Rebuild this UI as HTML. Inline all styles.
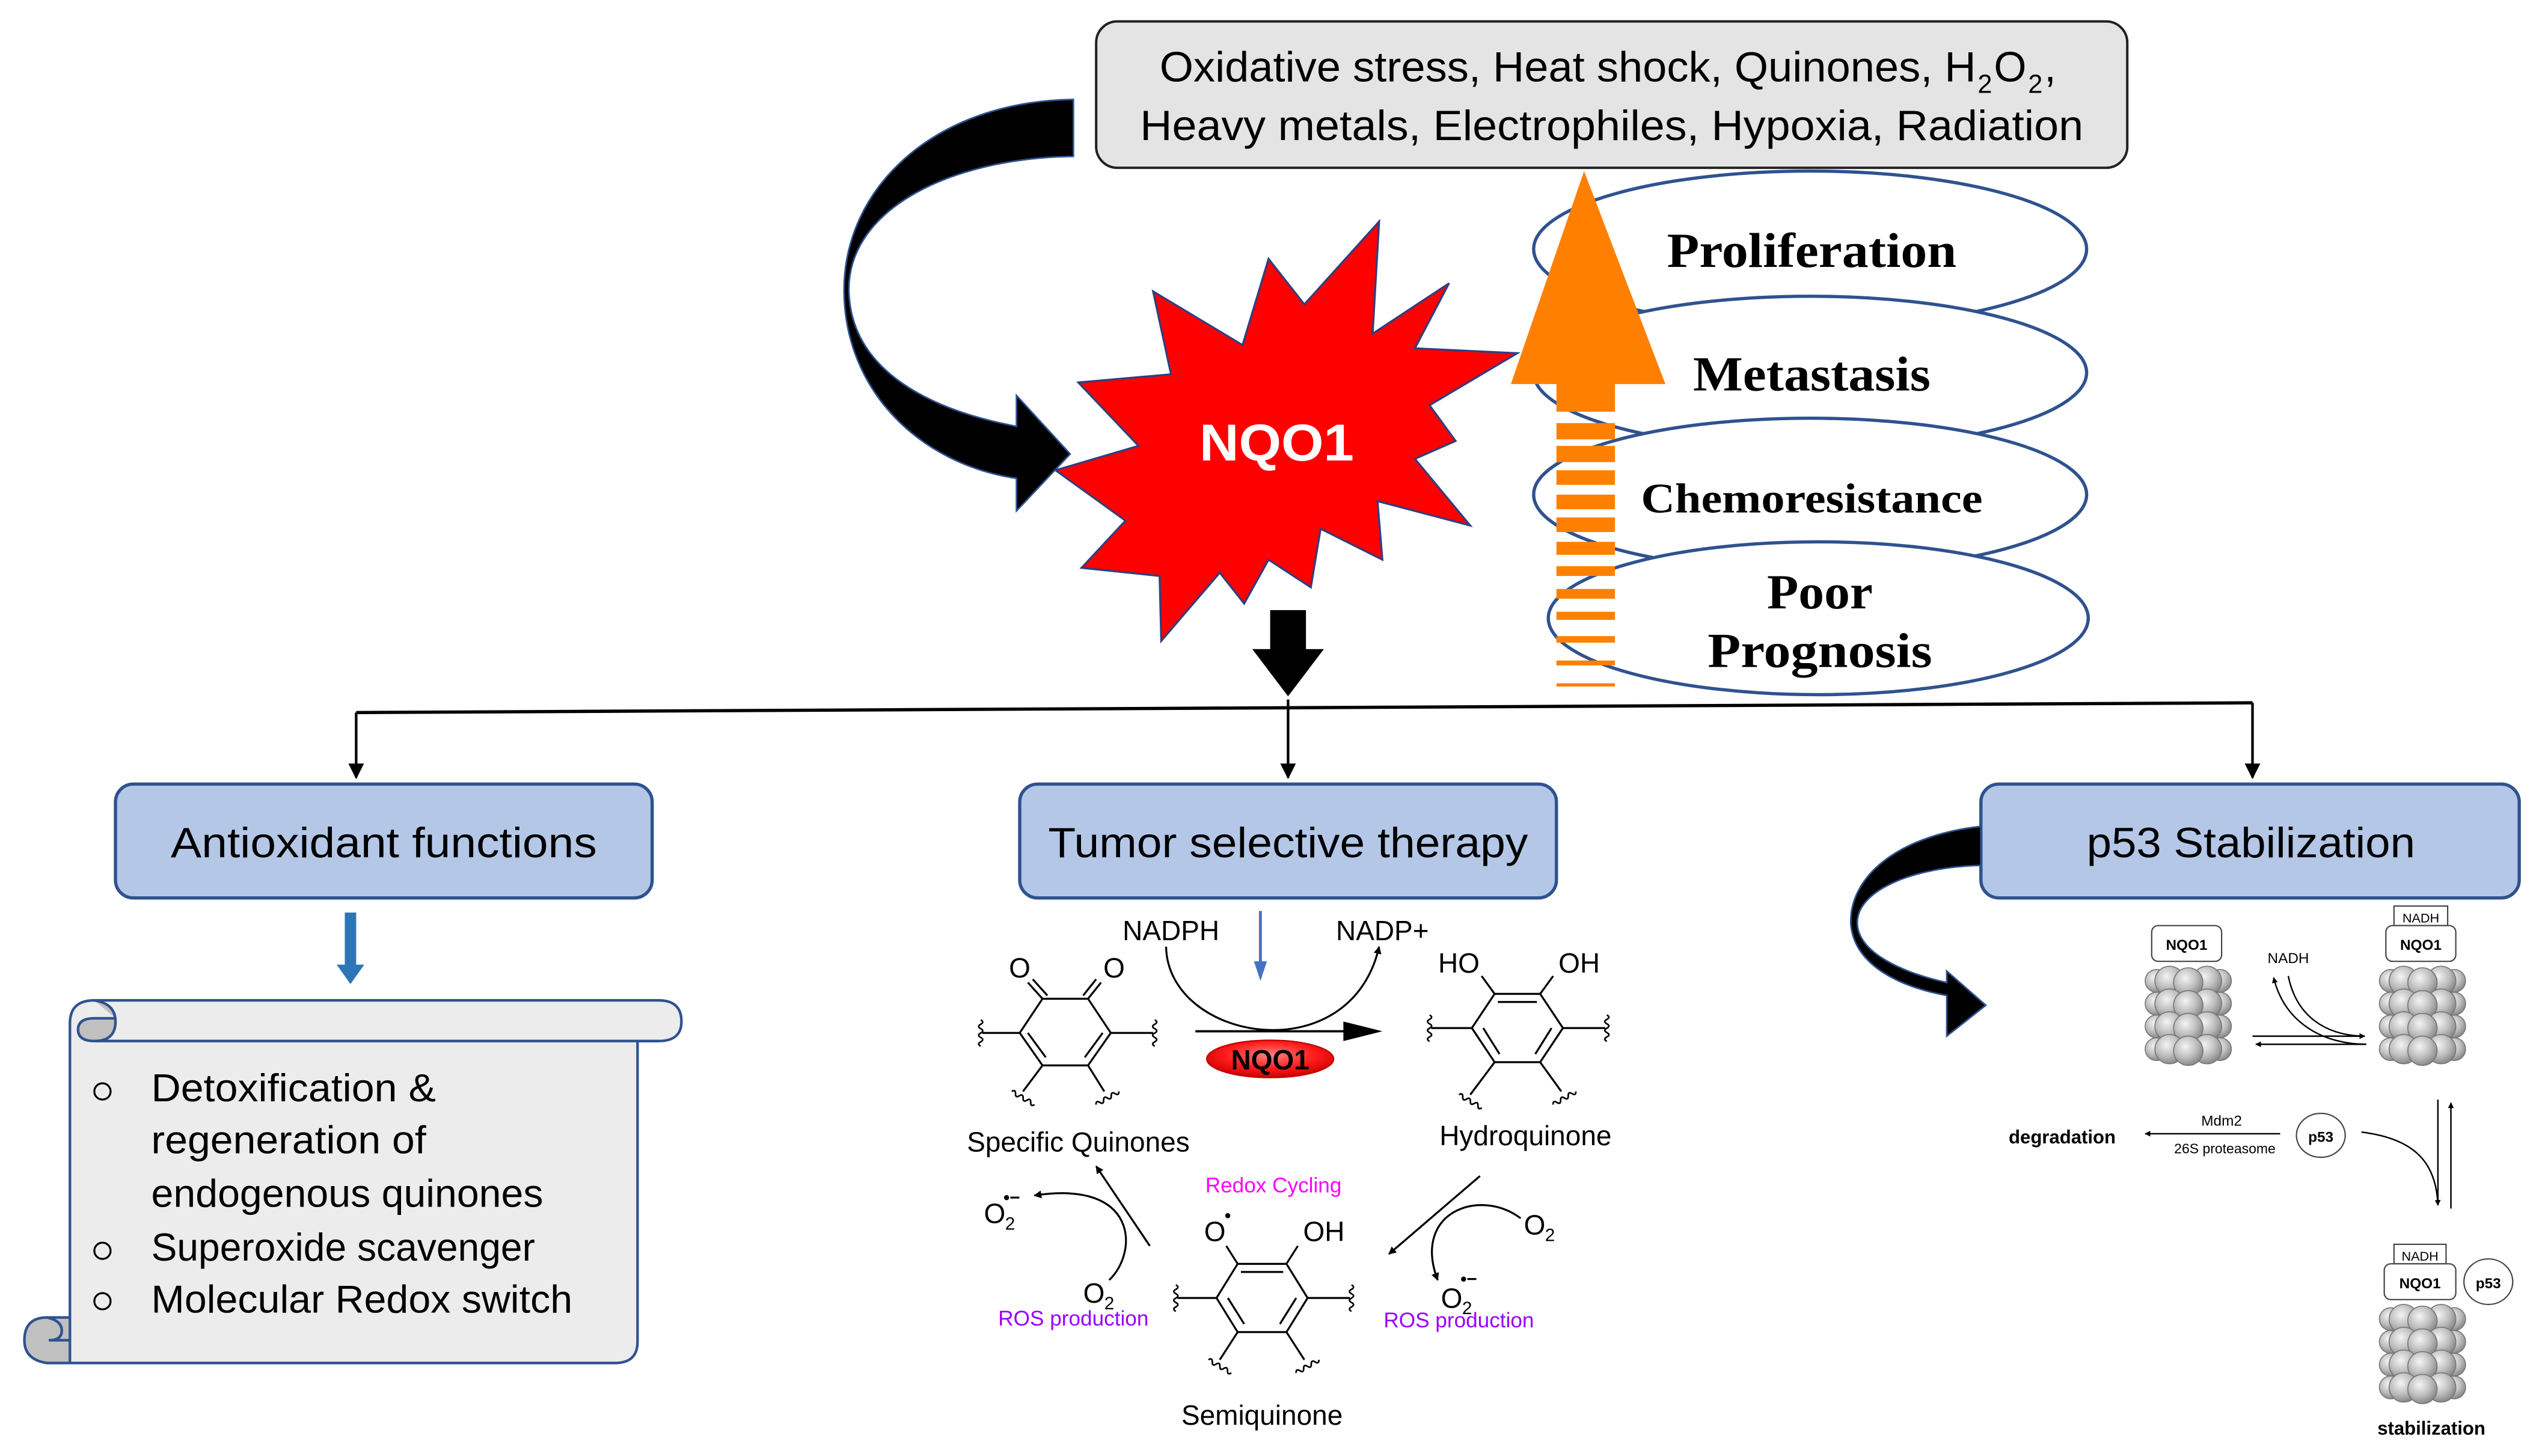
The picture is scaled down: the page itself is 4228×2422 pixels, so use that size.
<!DOCTYPE html>
<html><head><meta charset="utf-8"><style>
html,body{margin:0;padding:0;background:#fff;}
svg{display:block;}
.c{font-family:"Liberation Sans",sans-serif;}
.s{font-family:"Liberation Serif",serif;font-weight:bold;}
</style></head><body>
<svg width="4228" height="2422" viewBox="0 0 1563 895" xmlns="http://www.w3.org/2000/svg">
<defs>
<marker id="ah" viewBox="0 0 10 10" refX="9" refY="5" markerWidth="6" markerHeight="6" orient="auto-start-reverse"><path d="M0,0 L10,5 L0,10 z" fill="#000"/></marker>
<marker id="ahs" viewBox="0 0 10 10" refX="9" refY="5" markerWidth="4" markerHeight="4" orient="auto-start-reverse"><path d="M0,0 L10,5 L0,10 z" fill="#000"/></marker>
<path id="wv" d="M0,-8 q2.5,1.3 0,2.7 q-2.5,1.3 0,2.7 q2.5,1.3 0,2.7 q-2.5,1.3 0,2.7 q2.5,1.3 0,2.7 q-2.5,1.3 0,2.7" fill="none" stroke="#000" stroke-width="1"/>
<radialGradient id="sph" cx="40%" cy="35%" r="65%"><stop offset="0" stop-color="#f4f4f4"/><stop offset="0.6" stop-color="#bdbdbd"/><stop offset="1" stop-color="#8a8a8a"/></radialGradient>
<g id="prot">
 <g stroke="#777" stroke-width="0.6" fill="url(#sph)">
  <circle cx="6" cy="9" r="7"/><circle cx="45" cy="9" r="7"/>
  <circle cx="6" cy="23" r="7"/><circle cx="45" cy="23" r="7"/>
  <circle cx="6" cy="37" r="7"/><circle cx="45" cy="37" r="7"/>
  <circle cx="6" cy="51" r="7"/><circle cx="45" cy="51" r="7"/>
  <circle cx="14" cy="9" r="9"/><circle cx="37" cy="9" r="9"/><circle cx="25.5" cy="10" r="9"/>
  <circle cx="14" cy="23" r="9"/><circle cx="37" cy="23" r="9"/><circle cx="25.5" cy="24" r="9"/>
  <circle cx="14" cy="37" r="9"/><circle cx="37" cy="37" r="9"/><circle cx="25.5" cy="38" r="9"/>
  <circle cx="14" cy="51" r="9"/><circle cx="37" cy="51" r="9"/><circle cx="25.5" cy="52" r="9"/>
 </g>
</g>
</defs>

<rect x="674" y="13" width="634" height="90" rx="13" fill="#e4e4e4" stroke="#222" stroke-width="1.5"/>
<text class="c" x="713" y="50" font-size="26" textLength="502" lengthAdjust="spacingAndGlyphs">Oxidative stress, Heat shock, Quinones, H</text>
<text class="c" x="1216" y="57" font-size="16">2</text>
<text class="c" x="1226" y="50" font-size="26" textLength="20" lengthAdjust="spacingAndGlyphs">O</text>
<text class="c" x="1247" y="57" font-size="16">2</text>
<text class="c" x="1257" y="50" font-size="26">,</text>
<text class="c" x="701" y="86" font-size="26" textLength="580" lengthAdjust="spacingAndGlyphs">Heavy metals, Electrophiles, Hypoxia, Radiation</text>

<path d="M660,61 C575,62 518,115 519,180 C520,240 565,285 625,294 L625,314 L658,279 L625,243 L625,262 C572,252 524,228 522,180 C520,130 582,97 660,96 Z" fill="#000" stroke="#2f528f" stroke-width="1"/>

<g fill="#fff" stroke="#2f528f" stroke-width="2">
<ellipse cx="1113" cy="153" rx="170" ry="48"/>
<ellipse cx="1113" cy="229" rx="170" ry="47"/>
<ellipse cx="1113" cy="304" rx="170" ry="47"/>
<ellipse cx="1118" cy="380" rx="166" ry="47"/>
</g>
<text class="s" x="1114" y="164" font-size="30" text-anchor="middle" textLength="178" lengthAdjust="spacingAndGlyphs">Proliferation</text>
<text class="s" x="1114" y="240" font-size="30" text-anchor="middle" textLength="146" lengthAdjust="spacingAndGlyphs">Metastasis</text>
<text class="s" x="1114" y="315" font-size="26" text-anchor="middle" textLength="210" lengthAdjust="spacingAndGlyphs">Chemoresistance</text>
<text class="s" x="1119" y="374" font-size="30" text-anchor="middle" textLength="65" lengthAdjust="spacingAndGlyphs">Poor</text>
<text class="s" x="1119" y="410" font-size="30" text-anchor="middle" textLength="138" lengthAdjust="spacingAndGlyphs">Prognosis</text>

<polygon points="848,136 802,187 780,159 764,212 709,179 720,230 663,235 700,274 649,289 692,320 665,349 713,354 714,394 750,352 765,371 780,344 806,361 812,325 850,344 847,308 904,323 870,282 895,271 879,249 933,217 870,214 891,174 844,205" fill="#ff0000" stroke="#2f3f7f" stroke-width="1.2"/>
<text class="c" x="785" y="283" font-size="32" font-weight="bold" fill="#fff" text-anchor="middle" textLength="95" lengthAdjust="spacingAndGlyphs">NQO1</text>

<polygon points="974,105 1024,236 929,236" fill="#ff8000"/>
<g fill="#ff8000">
<rect x="957" y="235" width="36" height="18"/>
<rect x="957" y="260" width="36" height="10"/>
<rect x="957" y="274" width="36" height="10"/>
<rect x="957" y="289" width="36" height="9"/>
<rect x="957" y="304" width="36" height="9"/>
<rect x="957" y="318" width="36" height="9"/>
<rect x="957" y="333" width="36" height="8"/>
<rect x="957" y="348" width="36" height="6"/>
<rect x="957" y="362" width="36" height="6"/>
<rect x="957" y="376" width="36" height="5"/>
<rect x="957" y="391" width="36" height="4"/>
<rect x="957" y="406" width="36" height="3"/>
<rect x="957" y="420" width="36" height="2"/>
</g>

<polygon points="781,375 803,375 803,399 814,399 792,428 770,399 781,399" fill="#000"/>

<path d="M219,438 L1385,432" stroke="#000" stroke-width="2" fill="none"/>
<path d="M219,438 L219,478" stroke="#000" stroke-width="1.6" fill="none" marker-end="url(#ah)"/>
<path d="M792,430 L792,478" stroke="#000" stroke-width="1.6" fill="none" marker-end="url(#ah)"/>
<path d="M1385,432 L1385,478" stroke="#000" stroke-width="1.6" fill="none" marker-end="url(#ah)"/>

<g fill="#b4c7e7" stroke="#2f528f" stroke-width="2">
<rect x="71" y="482" width="330" height="70" rx="11"/>
<rect x="627" y="482" width="330" height="70" rx="11"/>
<rect x="1218" y="482" width="331" height="70" rx="11"/>
</g>
<text class="c" x="236" y="527" font-size="26" text-anchor="middle" textLength="262" lengthAdjust="spacingAndGlyphs">Antioxidant functions</text>
<text class="c" x="792" y="527" font-size="26" text-anchor="middle" textLength="295" lengthAdjust="spacingAndGlyphs">Tumor selective therapy</text>
<text class="c" x="1384" y="527" font-size="26" text-anchor="middle" textLength="202" lengthAdjust="spacingAndGlyphs">p53 Stabilization</text>

<polygon points="212,561 219,561 219,593 224,593 215.5,605 207,593 212,593" fill="#2e75b6"/>

<path d="M43,629 Q43,615 58,615 L405,615 Q419,615 419,628 Q419,640 405,640 L392,640 L392,825 Q392,838 378,838 L29,838 L29,824 L43,824 Z" fill="#ececec" stroke="#2f528f" stroke-width="1.6"/>
<path d="M58,615 Q71,617 71,628 Q71,640 58,640 Q48,640 48,633 Q48,626 58,626 L71,626" fill="#c0c0c0" stroke="#2f528f" stroke-width="1.6"/>
<path d="M58,640 L405,640" stroke="#2f528f" stroke-width="1.6"/>
<path d="M29,810 L43,810 L43,838 L29,838 Q15,836 15,824 Q15,810 29,810 Z" fill="#c0c0c0" stroke="#2f528f" stroke-width="1.6"/>
<path d="M29,810 Q38,812 38,818 Q38,824 30,824 L43,824" fill="none" stroke="#2f528f" stroke-width="1.6"/>
<g fill="none" stroke="#000" stroke-width="1.2">
<circle cx="63" cy="671" r="5"/><circle cx="63" cy="769" r="5"/><circle cx="63" cy="800" r="5"/>
</g>
<g class="c" font-size="24">
<text x="93" y="677" textLength="175" lengthAdjust="spacingAndGlyphs">Detoxification &amp;</text>
<text x="93" y="709" textLength="169" lengthAdjust="spacingAndGlyphs">regeneration of</text>
<text x="93" y="742" textLength="241" lengthAdjust="spacingAndGlyphs">endogenous quinones</text>
<text x="93" y="775" textLength="236" lengthAdjust="spacingAndGlyphs">Superoxide scavenger</text>
<text x="93" y="807" textLength="259" lengthAdjust="spacingAndGlyphs">Molecular Redox switch</text>
</g>

<g class="c" font-size="17">
<text x="720" y="578" text-anchor="middle">NADPH</text>
<text x="850" y="578" text-anchor="middle">NADP+</text>
<text x="663" y="708" text-anchor="middle">Specific Quinones</text>
<text x="938" y="704" text-anchor="middle">Hydroquinone</text>
<text x="776" y="876" text-anchor="middle">Semiquinone</text>
<text x="627" y="601" text-anchor="middle">O</text>
<text x="685" y="601" text-anchor="middle">O</text>
<text x="897" y="598" text-anchor="middle">HO</text>
<text x="971" y="598" text-anchor="middle">OH</text>
<text x="747" y="763" text-anchor="middle">O</text>
<text x="814" y="763" text-anchor="middle">OH</text>
<text x="605" y="752">O</text><text x="618" y="756" font-size="11">2</text>
<text x="666" y="801">O</text><text x="679" y="805" font-size="11">2</text>
<text x="937" y="759">O</text><text x="950" y="763" font-size="11">2</text>
<text x="886" y="804">O</text><text x="899" y="808" font-size="11">2</text>
</g>
<g font-size="11" class="c" font-weight="bold">
<text x="617" y="740">•−</text><text x="898" y="790">•−</text><text x="753" y="751">•</text>
</g>
<text class="c" x="783" y="733" font-size="13" fill="#ff00ff" text-anchor="middle">Redox Cycling</text>
<text class="c" x="660" y="815" font-size="13" fill="#9900ff" text-anchor="middle">ROS production</text>
<text class="c" x="897" y="816" font-size="13" fill="#9900ff" text-anchor="middle">ROS production</text>

<g fill="none" stroke="#000" stroke-width="1.2">
<polygon points="641,614 669,614 683,635 669,655 641,655 627,635"/>
<path d="M643,650 L632,635 M667,650 L678,635"/>
<path d="M641,614 L632,604 M644,612 L635,602 M669,614 L677,604 M666,612 L674,602"/>
<path d="M627,635 L604,635 M683,635 L709,635 M641,655 L629,671 M669,655 L679,671"/>
<polygon points="919,611 947,611 961,632 947,653 919,653 905,632"/>
<path d="M921,616 L945,616 M912,632 L922,648 M954,632 L944,648"/>
<path d="M919,611 L911,600 M947,611 L955,600"/>
<path d="M905,632 L880,632 M961,632 L987,632 M919,653 L904,673 M947,653 L960,671"/>
<polygon points="761,777 791,777 804,798 791,819 761,819 748,798"/>
<path d="M763,782 L789,782 M755,798 L765,814 M797,798 L787,814"/>
<path d="M761,777 L754,766 M791,777 L798,766"/>
<path d="M748,798 L724,798 M804,798 L830,798 M761,819 L750,836 M791,819 L802,836"/>
<path d="M717,582 C718,640 830,660 848,582" marker-end="url(#ahs)"/>
<path d="M682,787 C700,770 700,725 636,735" marker-end="url(#ahs)"/>
<path d="M707,766 L674,717" marker-end="url(#ahs)"/>
<path d="M910,723 L854,771" marker-end="url(#ahs)"/>
<path d="M935,749 C910,730 868,745 884,787" marker-end="url(#ahs)"/>
</g>
<path d="M735,634 L832,634" stroke="#000" stroke-width="1.4"/>
<polygon points="826,628 850,634 826,640" fill="#000"/>
<path d="M775,560 L775,592" stroke="#4472c4" stroke-width="1.8"/>
<polygon points="771,591 779,591 775,603" fill="#4472c4"/>
<defs><radialGradient id="rg" cx="50%" cy="40%" r="60%"><stop offset="0" stop-color="#ff8080"/><stop offset="0.6" stop-color="#ff1a1a"/><stop offset="1" stop-color="#cc0000"/></radialGradient></defs>
<ellipse cx="781" cy="651" rx="39" ry="11.5" fill="url(#rg)" stroke="#c00000" stroke-width="0.8"/>
<text class="c" x="781" y="657.5" font-size="17" font-weight="bold" text-anchor="middle">NQO1</text>
<use href="#wv" x="603" y="635"/><use href="#wv" x="710" y="635"/>
<use href="#wv" x="879" y="632"/><use href="#wv" x="988" y="632"/>
<use href="#wv" x="723" y="798"/><use href="#wv" x="831" y="798"/>
<use href="#wv" transform="translate(629,675) rotate(-60)"/><use href="#wv" transform="translate(681,675) rotate(60)"/>
<use href="#wv" transform="translate(904,677) rotate(-60)"/><use href="#wv" transform="translate(962,675) rotate(60)"/>
<use href="#wv" transform="translate(750,840) rotate(-60)"/><use href="#wv" transform="translate(804,840) rotate(60)"/>

<path d="M1218,508 C1165,514 1137,540 1138,568 C1140,592 1165,606 1197,612 L1197,637 L1221,618 L1197,597 L1197,604 C1170,598 1143,586 1142,568 C1141,548 1175,533 1218,532 Z" fill="#000" stroke="#2f528f" stroke-width="1"/>

<use href="#prot" x="1320" y="594"/>
<use href="#prot" x="1464" y="594"/>
<use href="#prot" x="1464" y="802"/>
<g fill="#fff" stroke="#444" stroke-width="0.8">
<rect x="1323" y="569" width="43" height="22" rx="4"/>
<rect x="1472" y="557" width="33" height="12"/>
<rect x="1467" y="569" width="43" height="22" rx="4"/>
<rect x="1472" y="765" width="32" height="12"/>
<rect x="1466" y="777" width="44" height="22" rx="4"/>
<ellipse cx="1427" cy="698" rx="15" ry="13.5"/>
<ellipse cx="1530" cy="788" rx="15" ry="14"/>
</g>
<g class="c" font-size="9" text-anchor="middle">
<text x="1344.5" y="584" font-weight="bold">NQO1</text>
<text x="1488.5" y="584" font-weight="bold">NQO1</text>
<text x="1488" y="792" font-weight="bold">NQO1</text>
<text x="1488.5" y="567" font-size="8">NADH</text>
<text x="1488" y="775" font-size="8">NADH</text>
<text x="1407" y="592">NADH</text>
<text x="1427" y="702" font-weight="bold">p53</text>
<text x="1530" y="792" font-weight="bold">p53</text>
<text x="1366" y="692">Mdm2</text>
<text x="1368" y="709" font-size="8.5">26S proteasome</text>
<text x="1268" y="703" font-size="11.5" font-weight="bold">degradation</text>
<text x="1495" y="882" font-size="11.5" font-weight="bold">stabilization</text>
</g>
<g fill="none" stroke="#000" stroke-width="0.9">
<path d="M1385,637 L1454,637" marker-end="url(#ahs)"/>
<path d="M1454,642 L1387,642" marker-end="url(#ahs)"/>
<path d="M1455,642 C1430,642 1405,630 1398,601" marker-end="url(#ahs)"/>
<path d="M1407,600 C1412,625 1430,636 1452,637"/>
<path d="M1402,697 L1319,697" marker-end="url(#ahs)"/>
<path d="M1452,696 C1485,700 1498,715 1499,741" marker-end="url(#ahs)"/>
<path d="M1499,676 L1499,741"/>
<path d="M1507,743 L1507,678" marker-end="url(#ahs)"/>
</g>
</svg>
</body></html>
